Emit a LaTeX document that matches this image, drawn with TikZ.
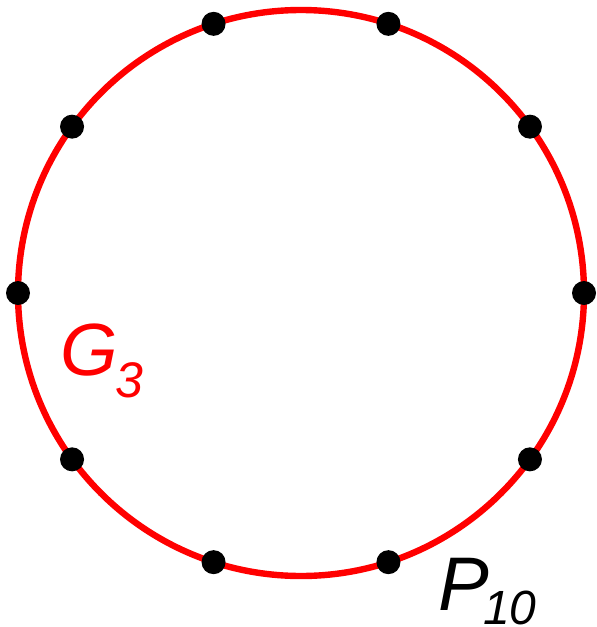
\documentclass[tikz,border=0pt]{standalone}
\usepackage{fontspec}
\setmainfont{Liberation Sans}
\usepackage{tikz}
\usetikzlibrary{positioning, calc}
\definecolor{ring}{RGB}{255,0,0}

\begin{document}
\begin{tikzpicture}[x=0.5pt, y=-0.5pt,
    vertex/.style={circle, fill=black, inner sep=0pt, minimum size=12pt},
    lbl/.style={inner sep=0pt, anchor=base west}
]
\useasboundingbox (0,0) rectangle (596,627);
\coordinate (c) at (301,293);
\draw[ring, line width=3.2pt] (c) circle[radius=283];
\foreach \i in {0,...,9}
    \node[vertex] (v\i) at ($(c)+({36*\i}:283)$) {};
\node[lbl, text=ring] (g3) at (60,375)
    {\fontsize{37}{37}\selectfont\itshape G\kern-1pt\raisebox{-11pt}{\fontsize{25}{25}\selectfont 3}};
\node[lbl] (p10) at (438,610)
    {\fontsize{38}{38}\selectfont\itshape P\kern-3pt\raisebox{-7pt}{\fontsize{24}{24}\selectfont 10}};
\end{tikzpicture}
\end{document}
